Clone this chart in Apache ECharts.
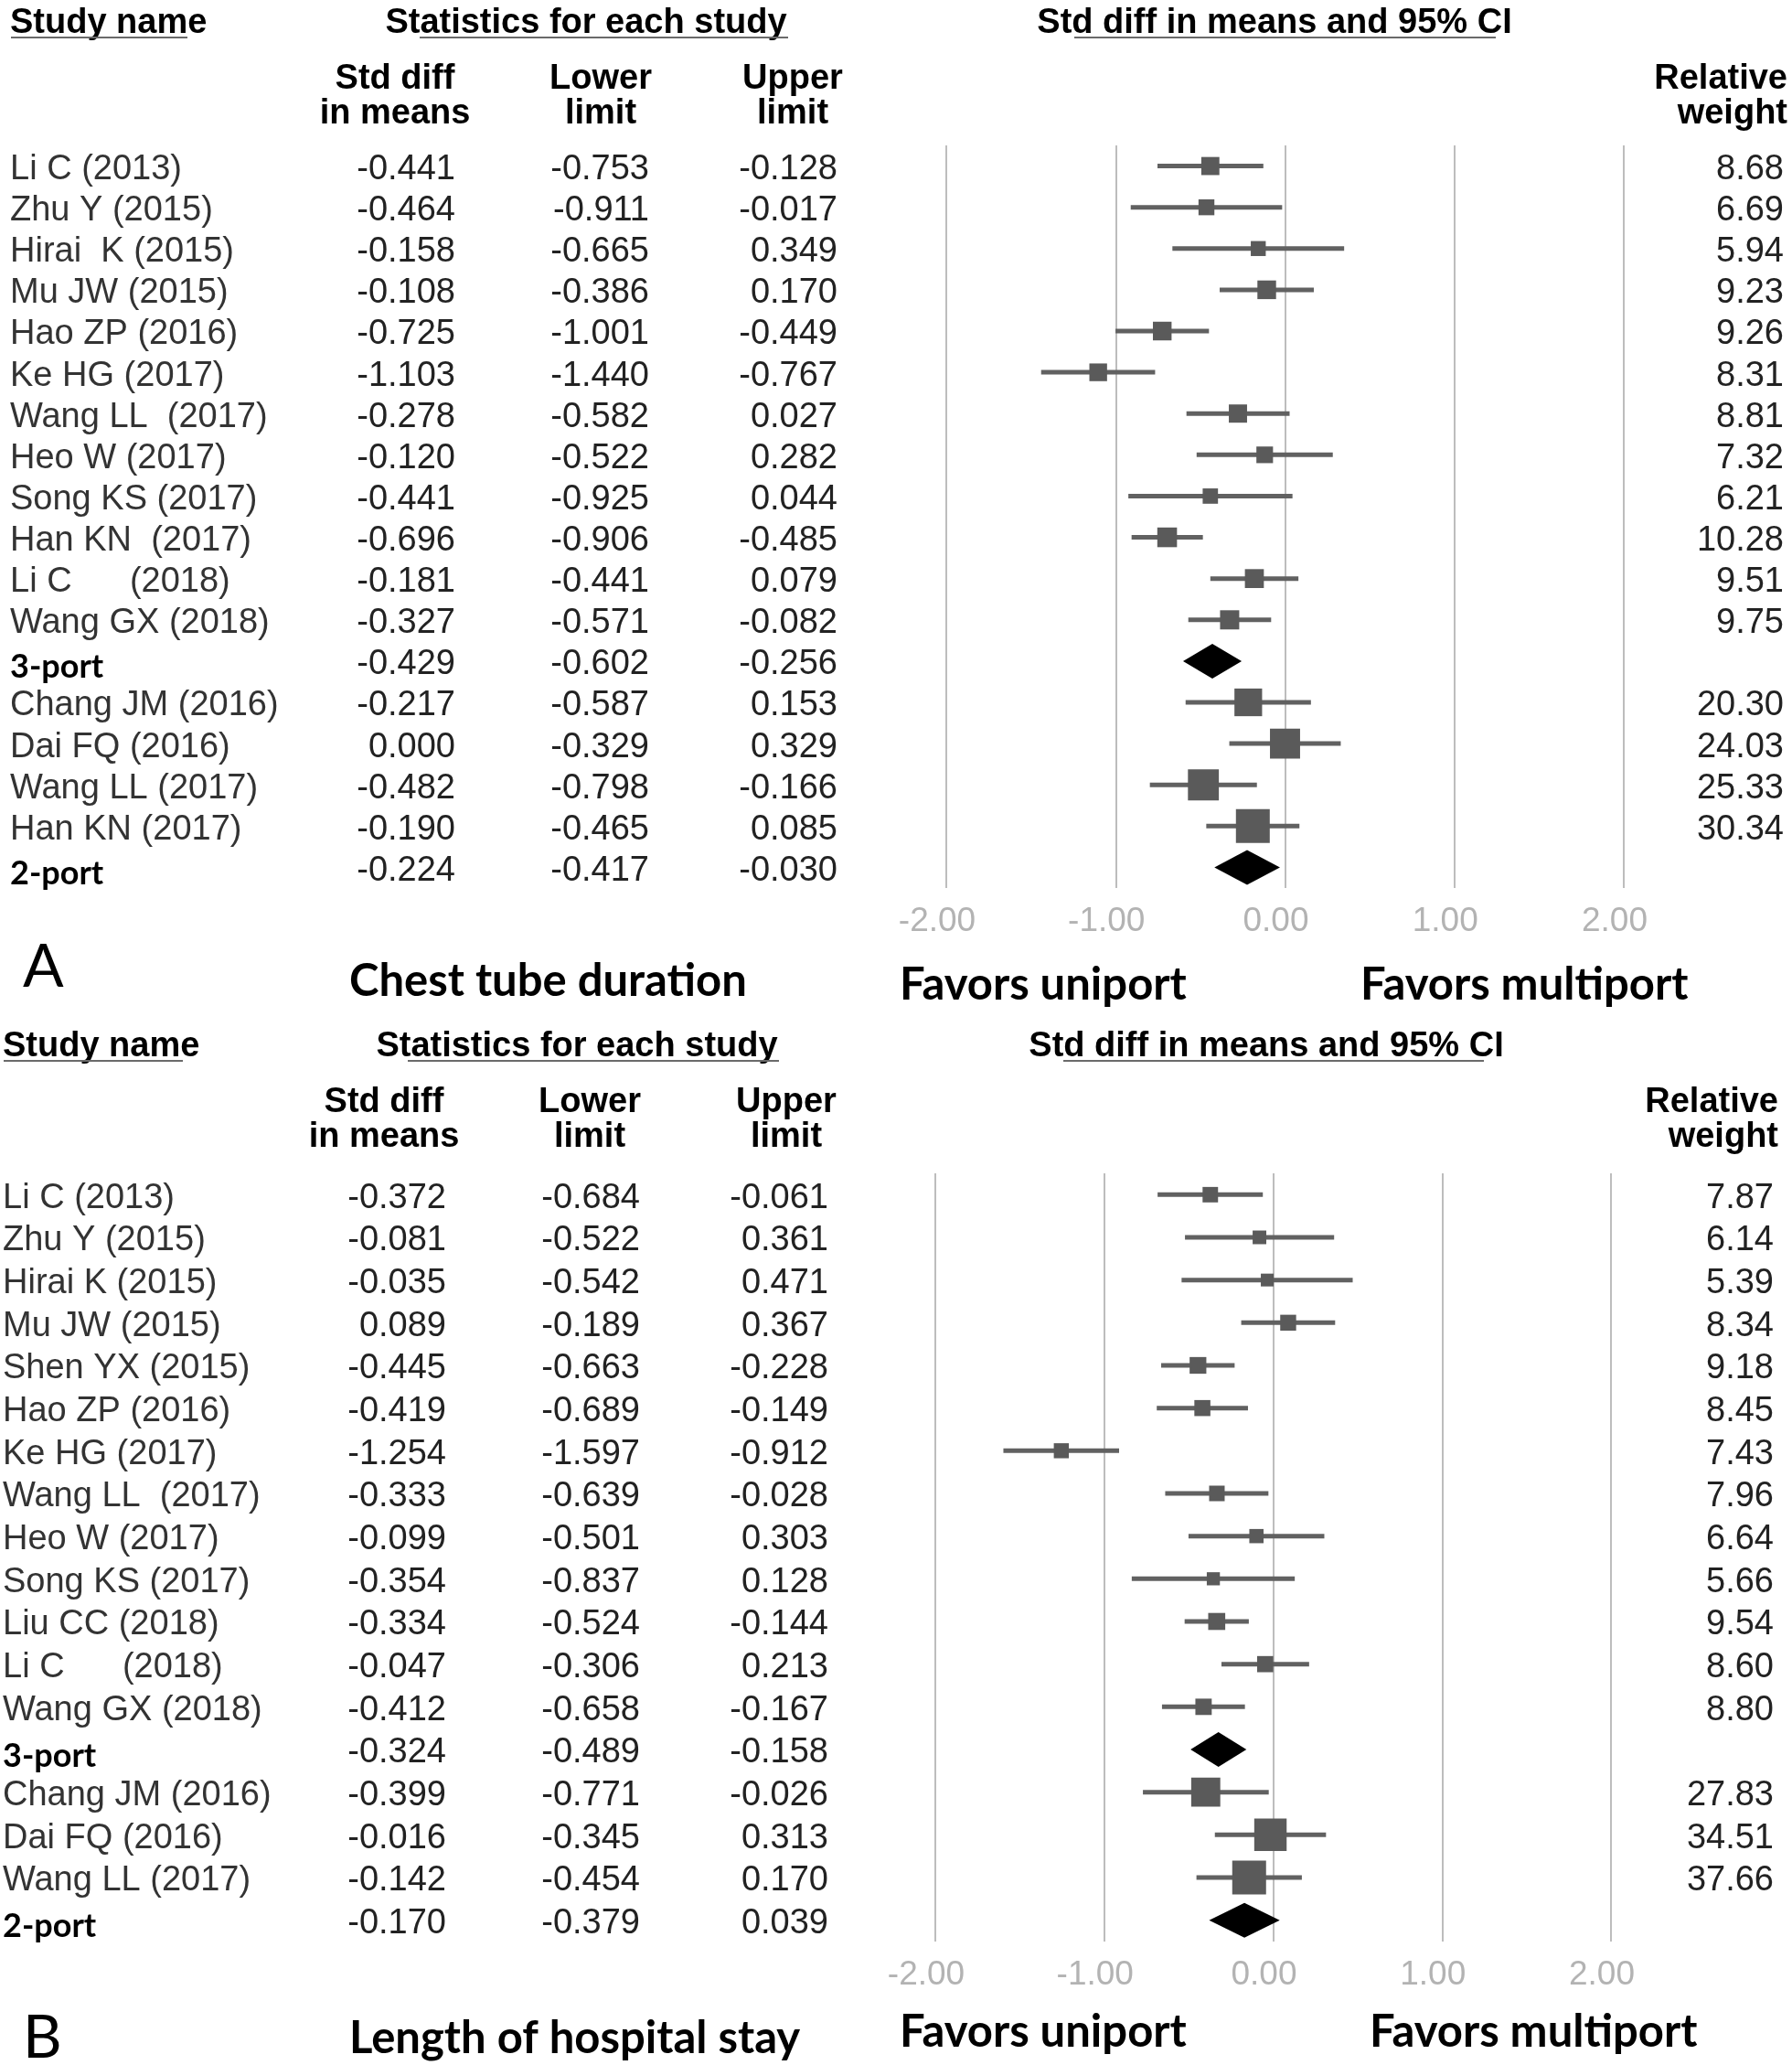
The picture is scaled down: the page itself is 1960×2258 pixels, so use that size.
<!DOCTYPE html>
<html>
<head>
<meta charset="utf-8">
<script src="https://cdn.jsdelivr.net/npm/echarts@6/dist/echarts.min.js"></script>
<style>
html,body{margin:0;padding:0;background:#fff;}
#chart{width:1960px;height:2258px;}
</style>
</head>
<body>
<div id="chart"></div>
<script>
// ---------- Panel A : Chest tube duration ----------
const A_names = ["Li C (2013)", "Zhu Y (2015)", "Hirai  K (2015)", "Mu JW (2015)", "Hao ZP (2016)", "Ke HG (2017)", "Wang LL  (2017)", "Heo W (2017)", "Song KS (2017)", "Han KN  (2017)", "Li C      (2018)", "Wang GX (2018)", "3-port", "Chang JM (2016)", "Dai FQ (2016)", "Wang LL (2017)", "Han KN (2017)", "2-port"];
const A_effect = [-0.441, -0.464, -0.158, -0.108, -0.725, -1.103, -0.278, -0.120, -0.441, -0.696, -0.181, -0.327, -0.429, -0.217, 0.000, -0.482, -0.190, -0.224];
const A_lower  = [-0.753, -0.911, -0.665, -0.386, -1.001, -1.440, -0.582, -0.522, -0.925, -0.906, -0.441, -0.571, -0.602, -0.587, -0.329, -0.798, -0.465, -0.417];
const A_upper  = [-0.128, -0.017, 0.349, 0.170, -0.449, -0.767, 0.027, 0.282, 0.044, -0.485, 0.079, -0.082, -0.256, 0.153, 0.329, -0.166, 0.085, -0.030];
const A_weight = [8.68, 6.69, 5.94, 9.23, 9.26, 8.31, 8.81, 7.32, 6.21, 10.28, 9.51, 9.75, null, 20.30, 24.03, 25.33, 30.34, null];

// ---------- Panel B : Length of hospital stay ----------
const B_names = ["Li C (2013)", "Zhu Y (2015)", "Hirai K (2015)", "Mu JW (2015)", "Shen YX (2015)", "Hao ZP (2016)", "Ke HG (2017)", "Wang LL  (2017)", "Heo W (2017)", "Song KS (2017)", "Liu CC (2018)", "Li C      (2018)", "Wang GX (2018)", "3-port", "Chang JM (2016)", "Dai FQ (2016)", "Wang LL (2017)", "2-port"];
const B_effect = [-0.372, -0.081, -0.035, 0.089, -0.445, -0.419, -1.254, -0.333, -0.099, -0.354, -0.334, -0.047, -0.412, -0.324, -0.399, -0.016, -0.142, -0.170];
const B_lower  = [-0.684, -0.522, -0.542, -0.189, -0.663, -0.689, -1.597, -0.639, -0.501, -0.837, -0.524, -0.306, -0.658, -0.489, -0.771, -0.345, -0.454, -0.379];
const B_upper  = [-0.061, 0.361, 0.471, 0.367, -0.228, -0.149, -0.912, -0.028, 0.303, 0.128, -0.144, 0.213, -0.167, -0.158, -0.026, 0.313, 0.170, 0.039];
const B_weight = [7.87, 6.14, 5.39, 8.34, 9.18, 8.45, 7.43, 7.96, 6.64, 5.66, 9.54, 8.60, 8.80, null, 27.83, 34.51, 37.66, null];

const xTicks = { min: -2, max: 2, step: 1 };

const FONT = '"Liberation Sans", Arial, sans-serif';
const CAL = 'Lato, "Open Sans", sans-serif';

function ciSeries(gi, eff, lo, hi, wt) {
  const maxW = Math.max(...wt.filter(v => v != null));
  const data = eff.map((e, i) => [e, i, lo[i], hi[i], wt[i] == null ? 0 : wt[i], wt[i] == null ? 1 : 0]);
  return {
    type: 'custom', xAxisIndex: gi, yAxisIndex: gi, clip: false, silent: true,
    encode: { x: 0, y: 1 },
    data: data,
    renderItem: function (params, api) {
      const i = api.value(1);
      const c = api.coord([api.value(0), i]);
      const l = api.coord([api.value(2), i]);
      const h = api.coord([api.value(3), i]);
      if (api.value(5) === 1) {
        const hh = 19;
        return {
          type: 'polygon',
          shape: { points: [[l[0], c[1]], [c[0], c[1] - hh], [h[0], c[1]], [c[0], c[1] + hh]] },
          style: { fill: '#000' }
        };
      }
      const s = 37 * Math.sqrt(api.value(4) / maxW);
      return {
        type: 'group',
        children: [
          { type: 'line', shape: { x1: l[0], y1: c[1], x2: h[0], y2: c[1] }, style: { stroke: '#616161', lineWidth: 5 } },
          { type: 'rect', shape: { x: c[0] - s / 2, y: c[1] - s / 2, width: s, height: s }, style: { fill: '#5a5a5a' } }
        ]
      };
    }
  };
}

function txt(x, y, text, font, fill, align) {
  return {
    type: 'text', x: x, y: y,
    style: { text: text, font: font, fill: fill, textAlign: align, align: align, textVerticalAlign: 'middle', verticalAlign: 'middle' }
  };
}

function tableSeries(gi, names, eff, lo, hi, wt, col) {
  return {
    type: 'custom', xAxisIndex: gi, yAxisIndex: gi, clip: false, silent: true,
    encode: { x: 0, y: 1 },
    data: names.map((n, i) => [0, i]),
    renderItem: function (params, api) {
      const i = params.dataIndex;
      const y = api.coord([0, i])[1] + 4;
      const isSum = wt[i] == null;
      const kids = [];
      if (isSum) {
        kids.push(txt(col.name, y + 3, names[i], 'bold 36px ' + CAL, '#000', 'left'));
      } else {
        kids.push(txt(col.name, y, names[i], '38px ' + FONT, '#333', 'left'));
        kids.push(txt(col.wt, y, wt[i].toFixed(2), '38px ' + FONT, '#222', 'right'));
      }
      kids.push(txt(col.eff, y, eff[i].toFixed(3), '38px ' + FONT, '#222', 'right'));
      kids.push(txt(col.lo, y, lo[i].toFixed(3), '38px ' + FONT, '#222', 'right'));
      kids.push(txt(col.hi, y, hi[i].toFixed(3), '38px ' + FONT, '#222', 'right'));
      return { type: 'group', children: kids };
    }
  };
}

function xAxis(gi) {
  return {
    gridIndex: gi, type: 'value', min: xTicks.min, max: xTicks.max, interval: xTicks.step,
    axisLine: { show: false }, axisTick: { show: false },
    splitLine: { show: true, lineStyle: { color: '#bdbdbd', width: 2 } },
    axisLabel: { formatter: v => v.toFixed(2), color: '#b3b3b3', fontSize: 37, fontFamily: 'Liberation Sans', margin: 18, padding: [0, 20, 0, 0] }
  };
}
function yAxis(gi, names) {
  return { gridIndex: gi, type: 'category', data: names, inverse: true, show: false, boundaryGap: true };
}

function headers(y0, cx) {
  const B = 'bold 38px ' + FONT;
  return [
    txt(cx.study, y0, 'Study name', B, '#000', 'left'),
    txt(cx.stats, y0, 'Statistics for each study', B, '#000', 'center'),
    txt(cx.ci, y0, 'Std diff in means and 95% CI', B, '#000', 'center'),
    txt(cx.eff, y0 + 80, 'Std diff\nin means', B, '#000', 'center'),
    txt(cx.lo, y0 + 80, 'Lower\nlimit', B, '#000', 'center'),
    txt(cx.hi, y0 + 80, 'Upper\nlimit', B, '#000', 'center'),
    txt(cx.wt, y0 + 80, 'Relative\nweight', B, '#000', 'right'),
    { type: 'line', shape: { x1: cx.ul[0][0], y1: y0 + 15, x2: cx.ul[0][1], y2: y0 + 15 }, style: { stroke: '#6a6a6a', lineWidth: 2 } },
    { type: 'line', shape: { x1: cx.ul[1][0], y1: y0 + 15, x2: cx.ul[1][1], y2: y0 + 15 }, style: { stroke: '#6a6a6a', lineWidth: 2 } },
    { type: 'line', shape: { x1: cx.ul[2][0], y1: y0 + 15, x2: cx.ul[2][1], y2: y0 + 15 }, style: { stroke: '#6a6a6a', lineWidth: 2 } }
  ];
}
function footer(yLetter, yTitle, yFav, xMulti, letter, title) {
  const F = 'bold 49px ' + CAL;
  return [
    txt(25, yLetter, letter, '66px ' + CAL, '#000', 'left'),
    txt(382, yTitle, title, F, '#000', 'left'),
    txt(984, yFav, 'Favors uniport', F, '#000', 'left'),
    txt(xMulti, yFav, 'Favors multiport', F, '#000', 'left')
  ];
}

const chart = echarts.init(document.getElementById('chart'), null, { renderer: 'canvas' });
const graphics = [].concat(
  headers(26, { study: 11, stats: 641, ci: 1394, eff: 432, lo: 657, hi: 867, wt: 1955,
    ul: [[12, 205], [459, 862], [1175, 1636]] }),
  headers(1145, { study: 3, stats: 631, ci: 1385, eff: 420, lo: 645, hi: 860, wt: 1945,
    ul: [[4, 200], [446, 852], [1163, 1623]] }),
  footer(1058, 1073, 1077, 1488, 'A', 'Chest tube duration'),
  footer(2229, 2229, 2222, 1498, 'B', 'Length of hospital stay')
);

chart.setOption({
  backgroundColor: '#fff',
  animation: false,
  grid: [
    { left: 1035, width: 741, top: 159, height: 812 },
    { left: 1023, width: 739, top: 1283, height: 840 }
  ],
  xAxis: [xAxis(0), xAxis(1)],
  yAxis: [yAxis(0, A_names), yAxis(1, B_names)],
  series: [
    ciSeries(0, A_effect, A_lower, A_upper, A_weight),
    tableSeries(0, A_names, A_effect, A_lower, A_upper, A_weight, { name: 11, eff: 498, lo: 710, hi: 916, wt: 1951 }),
    ciSeries(1, B_effect, B_lower, B_upper, B_weight),
    tableSeries(1, B_names, B_effect, B_lower, B_upper, B_weight, { name: 3, eff: 488, lo: 700, hi: 906, wt: 1940 })
  ],
  graphic: { elements: graphics }
});
</script>
</body>
</html>
